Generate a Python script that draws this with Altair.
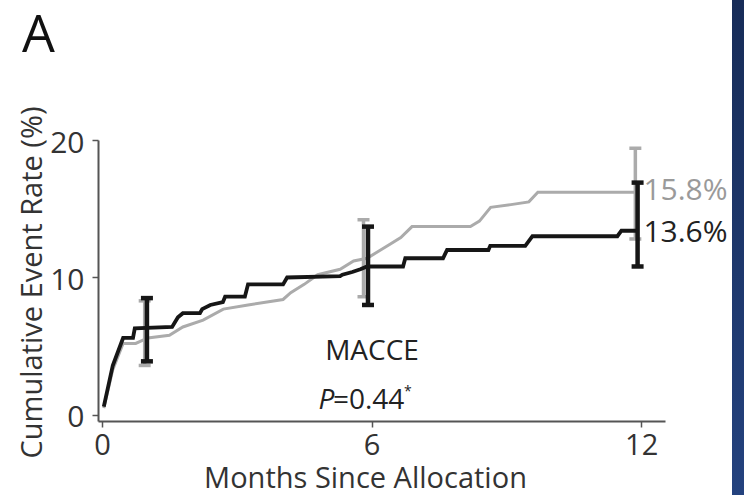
import altair as alt
import pandas as pd

# ---- data ----
black_months = [0.04, 0.24, 0.47, 0.69, 0.73, 1.56, 1.69, 1.80, 2.18, 2.23, 2.41, 2.69, 2.74,
                3.18, 3.25, 4.03, 4.12, 5.30, 5.35, 5.57, 5.75, 5.90, 6.70, 6.75, 7.59, 7.68,
                8.60, 8.64, 9.42, 9.58, 11.47, 11.56, 11.92]
black_rate = [0.6, 3.6, 5.6, 5.6, 6.3, 6.4, 7.1, 7.4, 7.4, 7.7, 8.0, 8.2, 8.6,
              8.6, 9.5, 9.5, 10.0, 10.1, 10.2, 10.4, 10.6, 10.8, 10.8, 11.4, 11.4, 12.0,
              12.0, 12.3, 12.3, 13.0, 13.0, 13.4, 13.4]

gray_months = [0.04, 0.24, 0.47, 0.75, 1.02, 1.5, 1.8, 2.25, 2.7, 3.25, 4.03, 4.2, 4.5,
               4.8, 5.3, 5.6, 5.9, 6.2, 6.4, 6.65, 6.9, 8.2, 8.4, 8.65, 9.1, 9.5, 9.7, 11.87]
gray_rate = [0.5, 3.3, 5.2, 5.2, 5.6, 5.8, 6.4, 6.9, 7.7, 8.0, 8.4, 8.9, 9.5,
             10.2, 10.6, 11.2, 11.4, 12.0, 12.4, 12.9, 13.7, 13.7, 14.1, 15.1, 15.3, 15.5, 16.2, 16.2]

bar_black_months = [1.0, 5.92, 11.92]
bar_black_lo = [3.9, 8.0, 10.8]
bar_black_hi = [8.5, 13.7, 16.9]

bar_gray_months = [0.95, 5.82, 11.87]
bar_gray_lo = [3.6, 8.6, 12.8]
bar_gray_hi = [8.3, 14.2, 19.4]

x_ticks = [0, 6, 12]
y_ticks = [0, 10, 20]

end_labels = ["15.8%", "13.6%"]

FONT = "Open Sans"
BLACK = "#161616"
GRAY = "#ababab"

black_df = pd.DataFrame({"m": black_months, "r": black_rate, "o": range(len(black_months))})
gray_df = pd.DataFrame({"m": gray_months, "r": gray_rate, "o": range(len(gray_months))})
bb_df = pd.DataFrame({"m": bar_black_months, "lo": bar_black_lo, "hi": bar_black_hi})
bg_df = pd.DataFrame({"m": bar_gray_months, "lo": bar_gray_lo, "hi": bar_gray_hi})

xscale = alt.Scale(domain=[-0.089, 12.53], nice=False, zero=False)
yscale = alt.Scale(domain=[-0.44, 20], nice=False, zero=False)

xaxis = alt.Axis(values=x_ticks, title="Months Since Allocation", grid=False,
                 domainColor="#555", domainWidth=2, tickColor="#555", tickWidth=1.5,
                 tickSize=6, labelFont=FONT, labelFontSize=29, labelColor="#333",
                 labelPadding=4, titleFont=FONT, titleFontSize=29, titleFontWeight="normal",
                 titleColor="#333", titleX=267, titleY=66, titleBaseline="alphabetic",
                 titleAnchor="middle", titleAlign="center")
yaxis = alt.Axis(values=y_ticks, title="Cumulative Event Rate (%)", grid=False,
                 domainColor="#555", domainWidth=2, tickColor="#555", tickWidth=1.5,
                 tickSize=6, labelFont=FONT, labelFontSize=30, labelColor="#333",
                 labelPadding=8, labelOffset=3, titleFont=FONT, titleFontSize=29,
                 titleFontWeight="normal", titleColor="#333", titleX=-66, titleY=142,
                 titleBaseline="middle", titleAngle=-90, titleAlign="center")

X = alt.X("m:Q", scale=xscale, axis=xaxis)
Y = alt.Y("r:Q", scale=yscale, axis=yaxis)

gray_line = alt.Chart(gray_df).mark_line(color=GRAY, strokeWidth=3).encode(
    x=X, y=Y, order="o:Q")
black_line = alt.Chart(black_df).mark_line(color=BLACK, strokeWidth=3.8).encode(
    x=alt.X("m:Q", scale=xscale), y=alt.Y("r:Q", scale=yscale), order="o:Q")


def bars(df, color, w):
    base = alt.Chart(df)
    stem = base.mark_rule(color=color, strokeWidth=w).encode(
        x=alt.X("m:Q", scale=xscale), y=alt.Y("lo:Q", scale=yscale), y2="hi:Q")
    cap_lo = base.mark_rule(color=color, strokeWidth=w, xOffset=-6, x2Offset=6).encode(
        x=alt.X("m:Q", scale=xscale), x2="m:Q", y=alt.Y("lo:Q", scale=yscale))
    cap_hi = base.mark_rule(color=color, strokeWidth=w, xOffset=-6, x2Offset=6).encode(
        x=alt.X("m:Q", scale=xscale), x2="m:Q", y=alt.Y("hi:Q", scale=yscale))
    return stem + cap_lo + cap_hi


gray_bars = bars(bg_df, GRAY, 3.5)
black_bars = bars(bb_df, BLACK, 4.5)

lbl_gray = alt.Chart().mark_text(text=end_labels[0], font=FONT, fontSize=30, color="#9a9a9a",
                                 align="left", baseline="middle").encode(
    x=alt.datum(12.05, scale=xscale), y=alt.datum(16.3, scale=yscale))
lbl_black = alt.Chart().mark_text(text=end_labels[1], font=FONT, fontSize=30, color="#222",
                                  align="left", baseline="middle").encode(
    x=alt.datum(12.05, scale=xscale), y=alt.datum(13.2, scale=yscale))

macce = alt.Chart().mark_text(text="MACCE", font=FONT, fontSize=28, color="#222",
                              align="center", baseline="middle").encode(
    x=alt.datum(6.01, scale=xscale), y=alt.datum(4.6, scale=yscale))
p_it = alt.Chart().mark_text(text="P", font=FONT, fontSize=28, fontStyle="italic", color="#222",
                             align="right", baseline="middle").encode(
    x=alt.datum(5.17, scale=xscale), y=alt.datum(1.0, scale=yscale))
p_val = alt.Chart().mark_text(text="=0.44", font=FONT, fontSize=28, color="#222",
                              align="left", baseline="middle").encode(
    x=alt.datum(5.14, scale=xscale), y=alt.datum(1.0, scale=yscale))
p_star = alt.Chart().mark_text(text="*", font=FONT, fontSize=14, color="#222",
                               align="left", baseline="middle").encode(
    x=alt.datum(6.72, scale=xscale), y=alt.datum(1.7, scale=yscale))

panel = alt.Chart().mark_text(text="A", font=FONT, fontSize=52, color="#111",
                              align="left", baseline="alphabetic").encode(
    x=alt.value(-76), y=alt.value(-88))

stripe = alt.Chart().mark_rect(
    color=alt.Gradient(gradient="linear", x1=0, y1=0, x2=0, y2=1,
                       stops=[alt.GradientStop(color="#172c58", offset=0),
                              alt.GradientStop(color="#24427e", offset=1)])
).encode(x=alt.value(634), x2=alt.value(690), y=alt.value(-140), y2=alt.value(355))

chart = alt.layer(
    gray_line, gray_bars, black_line, black_bars,
    lbl_gray, lbl_black, macce, p_it, p_val, p_star, panel, stripe
).properties(
    width=567, height=281,
    padding={"left": 98, "top": 140, "right": 79, "bottom": 74},
    autosize=alt.AutoSizeParams(type="none"),
    background="white"
).configure_view(stroke=None)

chart.save("out.html", embed_options={"renderer": "svg", "actions": False})
